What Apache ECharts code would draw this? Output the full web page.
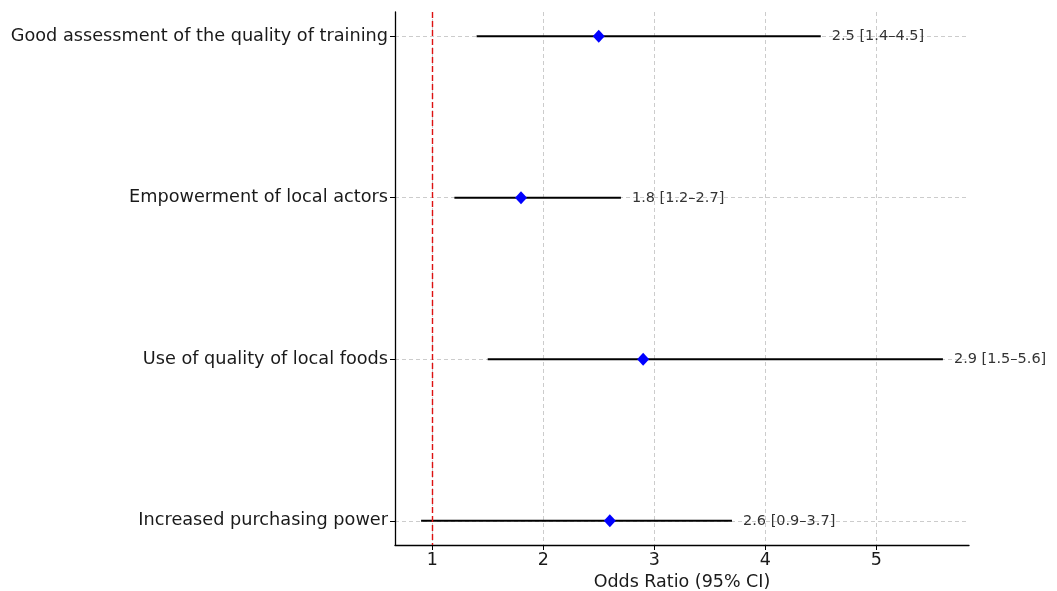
<!DOCTYPE html>
<html>
<head>
<meta charset="utf-8">
<script src="https://cdn.jsdelivr.net/npm/echarts@6/dist/echarts.min.js"></script>
<style>html,body{margin:0;padding:0;background:#fff}#c{width:1057px;height:591px}</style>
</head>
<body>
<div id="c"></div>
<script>
const categories = ["Good assessment of the quality of training", "Empowerment of local actors", "Use of quality of local foods", "Increased purchasing power"];
const oddsRatio = [2.5, 1.8, 2.9, 2.6];
const lowerCI = [1.4, 1.2, 1.5, 0.9];
const upperCI = [4.5, 2.7, 5.6, 3.7];
const xTicks = [1, 2, 3, 4, 5];
const refLine = 1;

const font = '"DejaVu Sans", sans-serif';
const rows = categories.map((c, i) => [lowerCI[i], upperCI[i], i, oddsRatio[i]]);
const labelText = i => `${oddsRatio[i].toFixed(1)} [${lowerCI[i].toFixed(1)}\u2013${upperCI[i].toFixed(1)}]`;

const chart = echarts.init(document.getElementById('c'), null, {renderer: 'canvas'});
chart.setOption({
  animation: false,
  backgroundColor: '#fff',
  grid: {left: 395, right: 88, top: 12, bottom: 46, containLabel: false, outerBoundsMode: 'none'},
  xAxis: {
    type: 'value', min: 0.665, max: 5.835, position: 'bottom',
    name: 'Odds Ratio (95% CI)', nameLocation: 'middle', nameGap: 27,
    nameTextStyle: {fontFamily: font, fontSize: 17.5, color: '#1a1a1a'},
    axisLine: {show: true, onZero: false, lineStyle: {color: '#000', width: 1.3}},
    axisTick: {show: true, customValues: xTicks, length: 5, lineStyle: {color: '#000', width: 1}},
    axisLabel: {customValues: xTicks, fontFamily: font, fontSize: 17.5, color: '#1a1a1a', margin: 6},
    splitLine: {show: true, lineStyle: {color: '#cccccc', type: [4, 3], width: 1}}
  },
  yAxis: {
    type: 'value', min: -0.15, max: 3.15, inverse: true,
    axisLine: {show: true, onZero: false, lineStyle: {color: '#000', width: 1.3}},
    axisTick: {show: true, customValues: [0, 1, 2, 3], length: 5, lineStyle: {color: '#000', width: 1}},
    axisLabel: {customValues: [0, 1, 2, 3], formatter: v => categories[Math.round(v)] || '', fontFamily: font, fontSize: 17.7, color: '#1a1a1a', margin: 7},
    splitLine: {show: true, lineStyle: {color: '#cccccc', type: [4, 3], width: 1}}
  },
  series: [
    {
      type: 'custom',
      data: rows,
      encode: {x: [0, 1], y: 2},
      renderItem: (params, api) => {
        const i = params.dataIndex;
        const p1 = api.coord([api.value(0), api.value(2)]);
        const p2 = api.coord([api.value(1), api.value(2)]);
        return {
          type: 'group',
          children: [
            {type: 'line', shape: {x1: p1[0], y1: p1[1], x2: p2[0], y2: p2[1]}, style: {stroke: '#000', lineWidth: 2.2}},
            {type: 'text', x: p2[0] + 11, y: p2[1], style: {text: labelText(i), fill: '#333', font: '14.5px ' + font, textAlign: 'left', textVerticalAlign: 'middle'}}
          ]
        };
      },
      z: 2
    },
    {
      type: 'scatter',
      data: rows.map(r => [r[3], r[2]]),
      symbol: 'diamond', symbolSize: [12, 13],
      itemStyle: {color: '#0000ff', opacity: 1},
      z: 3,
      markLine: {
        silent: true, symbol: 'none', label: {show: false},
        lineStyle: {color: '#dd1111', type: [6, 3], width: 1.4, opacity: 1},
        data: [{xAxis: refLine}]
      }
    }
  ]
});
</script>
</body>
</html>
